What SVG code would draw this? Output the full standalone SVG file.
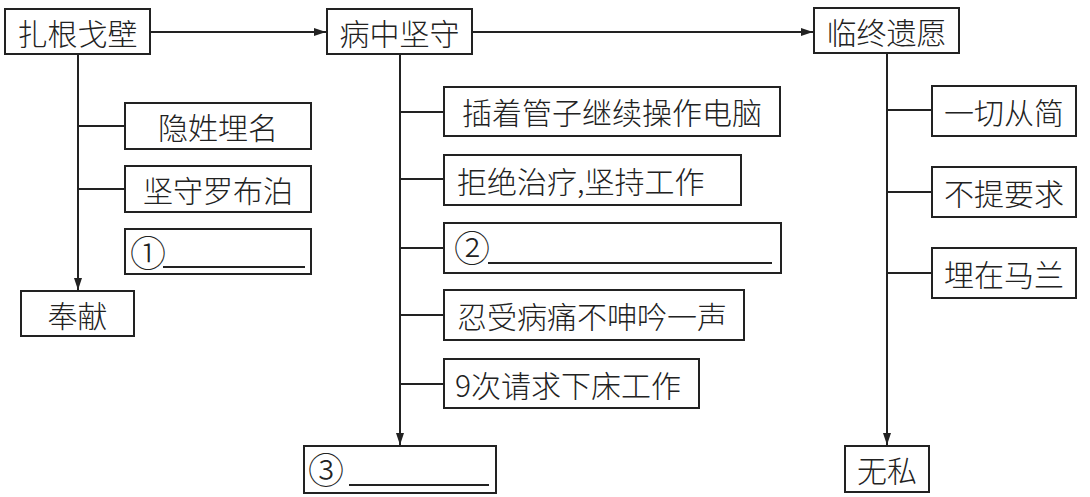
<svg xmlns="http://www.w3.org/2000/svg" width="1090" height="497" viewBox="0 0 1090 497">
<style>
.box{fill:#fff;stroke:#222;stroke-width:2}
.t{font-family:"Noto Sans CJK SC","Liberation Serif",sans-serif;font-size:30px;fill:#222;font-weight:300;dominant-baseline:central}
.m{text-anchor:middle}
.n{font-family:"Noto Sans CJK SC","DejaVu Sans",sans-serif;font-size:36px;fill:#222;font-weight:300;dominant-baseline:central}
.c{fill:none;stroke:#222;stroke-width:2}
.u{stroke:#222;stroke-width:2}
</style>
<defs>
<marker id="ah" viewBox="0 0 12 8" refX="12" refY="4" markerWidth="12" markerHeight="8" markerUnits="userSpaceOnUse" orient="auto">
<path d="M0,0 L12,4 L0,8 Z" fill="#222"/>
</marker>
</defs>
<rect width="1090" height="497" fill="#fff"/>
<g id="connectors">
<path class="c" d="M150,32 H326" marker-end="url(#ah)"/>
<path class="c" d="M472,32 H813" marker-end="url(#ah)"/>
<path class="c" d="M78,54 V290" marker-end="url(#ah)"/>
<path class="c" d="M78,126 H125 M78,189 H125"/>
<path class="c" d="M400,54 V445" marker-end="url(#ah)"/>
<path class="c" d="M400,112 H444 M400,179 H444 M400,248 H444 M400,315 H444 M400,384 H444"/>
<path class="c" d="M887,53 V445" marker-end="url(#ah)"/>
<path class="c" d="M887,110 H932 M887,192 H932 M887,273 H932"/>
</g>
<g id="n1"><rect class="box" x="5" y="9" width="145" height="45"/><text class="t m" x="77.5" y="32">扎根戈壁</text></g>
<g id="n2"><rect class="box" x="327" y="9" width="145" height="45"/><text class="t m" x="399.5" y="32">病中坚守</text></g>
<g id="n3"><rect class="box" x="814" y="8" width="145" height="45"/><text class="t m" x="886.5" y="31">临终遗愿</text></g>
<g id="n4"><rect class="box" x="125" y="103" width="186" height="46"/><text class="t m" x="218" y="126">隐姓埋名</text></g>
<g id="n5"><rect class="box" x="125" y="166" width="186" height="46"/><text class="t m" x="218" y="189">坚守罗布泊</text></g>
<g id="n6"><rect class="box" x="125" y="229" width="186" height="45"/><text class="n" x="130" y="251">①</text><line class="u" x1="163" y1="267" x2="305" y2="267"/></g>
<g id="n7"><rect class="box" x="21" y="291" width="113" height="45"/><text class="t m" x="77.5" y="314">奉献</text></g>
<g id="n8"><rect class="box" x="444" y="87" width="336" height="49"/><text class="t m" x="612" y="111">插着管子继续操作电脑</text></g>
<g id="n9"><rect class="box" x="444" y="155" width="297" height="50"/><text class="t" x="457" y="180">拒绝治疗,坚持工作</text></g>
<g id="n10"><rect class="box" x="444" y="223" width="337" height="50"/><text class="n" x="454" y="246">②</text><line class="u" x1="488" y1="263" x2="772" y2="263"/></g>
<g id="n11"><rect class="box" x="444" y="290" width="300" height="50"/><text class="t" x="457" y="315">忍受病痛不呻吟一声</text></g>
<g id="n12"><rect class="box" x="444" y="359" width="255" height="49"/><text class="t" x="455" y="384">9次请求下床工作</text></g>
<g id="n13"><rect class="box" x="304" y="446" width="192" height="47"/><text class="n" x="308" y="468">③</text><line class="u" x1="349" y1="485" x2="489" y2="485"/></g>
<g id="n14"><rect class="box" x="932" y="86" width="144" height="50"/><text class="t m" x="1004" y="111">一切从简</text></g>
<g id="n15"><rect class="box" x="932" y="167" width="144" height="50"/><text class="t m" x="1004" y="192">不提要求</text></g>
<g id="n16"><rect class="box" x="932" y="248" width="144" height="50"/><text class="t m" x="1004" y="273">埋在马兰</text></g>
<g id="n17"><rect class="box" x="845" y="446" width="84" height="46"/><text class="t m" x="887" y="469">无私</text></g>
</svg>
